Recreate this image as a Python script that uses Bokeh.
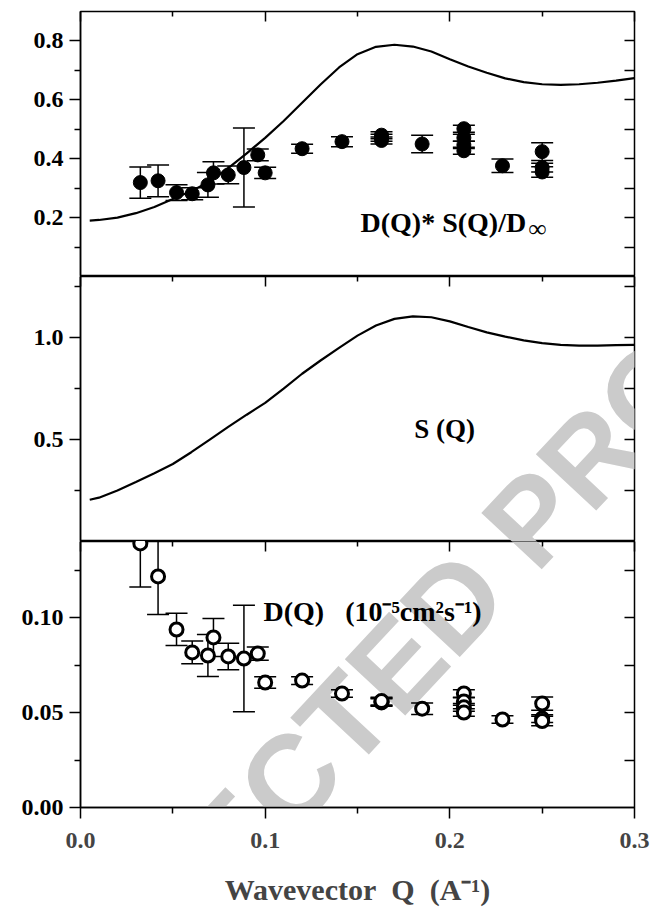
import math
from bokeh.plotting import figure
from bokeh.layouts import column
from bokeh.models import (LinearAxis, FixedTicker, Range1d, Whisker, TeeHead,
                          ColumnDataSource, Label, PrintfTickFormatter)
from bokeh.embed import file_html
from bokeh.resources import INLINE

# ---------------- data ----------------
q_points = [0.0324, 0.042, 0.052, 0.0605, 0.069, 0.072, 0.080, 0.0885, 0.096, 0.100,
            0.120, 0.1416, 0.163, 0.163, 0.163, 0.185, 0.2076, 0.2076, 0.2076, 0.2076,
            0.2285, 0.250, 0.250, 0.250]

dsd_values = [0.319, 0.325, 0.285, 0.281, 0.311, 0.352, 0.345, 0.370, 0.413, 0.352,
              0.434, 0.458, 0.462, 0.471, 0.480, 0.450, 0.502, 0.471, 0.447, 0.427,
              0.376, 0.424, 0.370, 0.355]
dsd_errors = [0.053, 0.054, 0.027, 0.020, 0.042, 0.038, 0.030, 0.134, 0.020, 0.019,
              0.015, 0.017, 0.012, 0.012, 0.012, 0.030, 0.012, 0.012, 0.012, 0.012,
              0.023, 0.030, 0.015, 0.018]

d_values = [0.139, 0.1216, 0.0937, 0.0816, 0.080, 0.0895, 0.0795, 0.0784, 0.081, 0.0658,
            0.0668, 0.060, 0.0553, 0.0556, 0.0560, 0.052, 0.060, 0.0558, 0.0527, 0.050,
            0.0463, 0.0547, 0.0468, 0.0455]
d_errors = [0.023, 0.020, 0.0085, 0.006, 0.011, 0.010, 0.007, 0.028, 0.0035, 0.003,
            0.002, 0.002, 0.002, 0.002, 0.002, 0.003, 0.002, 0.002, 0.002, 0.002,
            0.002, 0.0035, 0.002, 0.0025]

q_curve = [0.005, 0.010, 0.020, 0.030, 0.040, 0.050, 0.060, 0.070, 0.080, 0.090,
           0.100, 0.110, 0.120, 0.130, 0.140, 0.150, 0.160, 0.170, 0.180, 0.190,
           0.200, 0.210, 0.220, 0.230, 0.240, 0.250, 0.260, 0.270, 0.280, 0.290, 0.300]
dsd_curve = [0.190, 0.192, 0.200, 0.215, 0.236, 0.263, 0.290, 0.323, 0.368, 0.418,
             0.471, 0.528, 0.590, 0.652, 0.710, 0.755, 0.780, 0.787, 0.781, 0.764,
             0.738, 0.713, 0.692, 0.673, 0.660, 0.653, 0.651, 0.653, 0.658, 0.665, 0.674]
s_curve = [0.205, 0.215, 0.250, 0.292, 0.335, 0.380, 0.438, 0.500, 0.562, 0.622,
           0.680, 0.750, 0.823, 0.888, 0.950, 1.010, 1.060, 1.092, 1.104, 1.100,
           1.080, 1.052, 1.026, 1.005, 0.987, 0.973, 0.965, 0.961, 0.961, 0.963, 0.965]

x_ticks = [0.0, 0.1, 0.2, 0.3]
x_minor = [0.05, 0.15, 0.25]

FONT = "Liberation Serif"
FRAME_W = 554
LEFT = 80
RIGHT = 18
FRAME_LEFT_PAGE = LEFT
NB = "\u00a0"
TICK_FONT = "24px"


def tick_only_axis(ticks, minor, tick_in, minor_in):
    ax = LinearAxis(ticker=FixedTicker(ticks=ticks, minor_ticks=minor))
    ax.major_tick_in = tick_in
    ax.major_tick_out = 0
    ax.minor_tick_in = minor_in
    ax.minor_tick_out = 0
    ax.major_tick_line_width = 1.5
    ax.minor_tick_line_width = 1.5
    ax.axis_line_color = None
    ax.major_label_text_font_size = "1px"
    ax.major_label_text_color = None
    ax.major_label_standoff = 0
    ax.level = "overlay"
    return ax


def make_fig(y0, y1, frame_h, major, minor, fmt, right_ticks, top_border=0):
    p = figure(frame_width=FRAME_W, frame_height=frame_h,
               x_range=Range1d(0, 0.3), y_range=Range1d(y0, y1),
               output_backend="svg", toolbar_location=None,
               min_border_left=LEFT, min_border_right=RIGHT,
               min_border_top=top_border, min_border_bottom=0,
               x_axis_location=None, y_axis_location=None)
    p.xgrid.visible = False
    p.ygrid.visible = False
    p.outline_line_color = "black"
    p.outline_line_width = 1.5
    p.background_fill_color = "white"
    p.border_fill_color = "white"

    ya = LinearAxis(ticker=FixedTicker(ticks=major, minor_ticks=minor),
                    formatter=PrintfTickFormatter(format=fmt))
    ya.major_tick_out = 11
    ya.major_tick_in = 0
    ya.minor_tick_out = 6
    ya.minor_tick_in = 0
    ya.axis_line_width = 1.5
    ya.major_tick_line_width = 1.5
    ya.minor_tick_line_width = 1.5
    ya.major_label_text_font = FONT
    ya.major_label_text_font_style = "bold"
    ya.major_label_text_font_size = TICK_FONT
    ya.major_label_text_color = "black"
    ya.major_label_standoff = 6
    ya.level = "overlay"
    p.add_layout(ya, "left")

    p.add_layout(tick_only_axis(right_ticks, [], 10, 0), "right")
    p.add_layout(tick_only_axis(x_ticks, x_minor, 10, 5), "above")
    return p


def add_whiskers(p, q, v, e):
    src = ColumnDataSource(dict(q=q, lo=[a - b for a, b in zip(v, e)],
                                hi=[a + b for a, b in zip(v, e)]))
    w = Whisker(source=src, base="q", upper="hi", lower="lo", dimension="height",
                line_width=1.5, line_color="black", level="annotation",
                upper_head=TeeHead(size=22, line_width=1.5, line_color="black"),
                lower_head=TeeHead(size=22, line_width=1.5, line_color="black"))
    p.add_layout(w)


def text_label(p, x_page, y_page, frame_bottom_page, text, size="27px", align="left"):
    p.add_layout(Label(x=x_page - FRAME_LEFT_PAGE, y=frame_bottom_page - y_page,
                       x_units="screen", y_units="screen", text=text,
                       text_font=FONT, text_font_style="bold", text_font_size=size,
                       text_color="black", text_align=align, text_baseline="middle",
                       level="annotation"))


WM_X, WM_Y = 380, 680


def watermark(p, frame_bottom_page):
    p.add_layout(Label(x=WM_X - FRAME_LEFT_PAGE, y=frame_bottom_page - WM_Y,
                       x_units="screen", y_units="screen", text="CORRECTED PROOF",
                       angle=math.radians(47), text_font="Liberation Sans",
                       text_font_style="bold", text_font_size="120px",
                       text_color="#cbcbcb", text_align="center",
                       text_baseline="middle", level="guide"))


# ---------------- top panel ----------------
p1 = make_fig(0.0, 0.9, 265, [0.2, 0.4, 0.6, 0.8], [0.1, 0.3, 0.5, 0.7], "%.1f",
              [0.1, 0.2, 0.3, 0.4, 0.5, 0.6, 0.7, 0.8], top_border=11)
p1.line(q_curve, dsd_curve, line_width=2.2, line_color="black", level="overlay")
add_whiskers(p1, q_points, dsd_values, dsd_errors)
p1.scatter(q_points, dsd_values, size=14, fill_color="black", line_color="black",
           level="overlay")
text_label(p1, 360, 222, 276, "D(Q)* S(Q)/D", size="28px")
text_label(p1, 528, 228, 276, "\u221e", size="25px")

# ---------------- middle panel ----------------
p2 = make_fig(0.0, 1.3, 265, [0.5, 1.0], [0.25, 0.75, 1.25], "%.1f",
              [0.25, 0.5, 0.75, 1.0, 1.25])
watermark(p2, 541)
p2.line(q_curve, s_curve, line_width=2.2, line_color="black", level="overlay")
text_label(p2, 444, 428, 541, "S (Q)", align="center")

# ---------------- bottom panel ----------------
p3 = make_fig(0.0, 0.14, 266, [0.0, 0.05, 0.10], [0.025, 0.075, 0.125], "%.2f",
              [0.025, 0.05, 0.075, 0.1, 0.125])
watermark(p3, 807)
add_whiskers(p3, q_points, d_values, d_errors)
p3.scatter(q_points, d_values, size=13, fill_color="white", line_color="black",
           line_width=3, level="overlay")
text_label(p3, 263, 611, 807, "D(Q)" + NB * 3 + "(10\u207b\u2075cm\u00b2s\u207b\u00b9)",
           size="28px")

xa = LinearAxis(ticker=FixedTicker(ticks=x_ticks, minor_ticks=x_minor),
                formatter=PrintfTickFormatter(format="%.1f"))
xa.major_tick_out = 11
xa.major_tick_in = 0
xa.minor_tick_out = 6
xa.minor_tick_in = 0
xa.axis_line_width = 1.5
xa.major_tick_line_width = 1.5
xa.minor_tick_line_width = 1.5
xa.major_label_text_font = FONT
xa.major_label_text_font_style = "bold"
xa.major_label_text_font_size = TICK_FONT
xa.major_label_standoff = 14
xa.axis_label = "Wavevector" + NB * 2 + "Q" + NB * 2 + "(A\u207b\u00b9)"
xa.axis_label_text_font = FONT
xa.axis_label_text_font_style = "bold"
xa.axis_label_text_font_size = "30px"
xa.axis_label_standoff = 22
xa.level = "overlay"
p3.add_layout(xa, "below")

layout = column(p1, p2, p3, spacing=0)
open("out.html", "w").write(file_html(layout, INLINE))
